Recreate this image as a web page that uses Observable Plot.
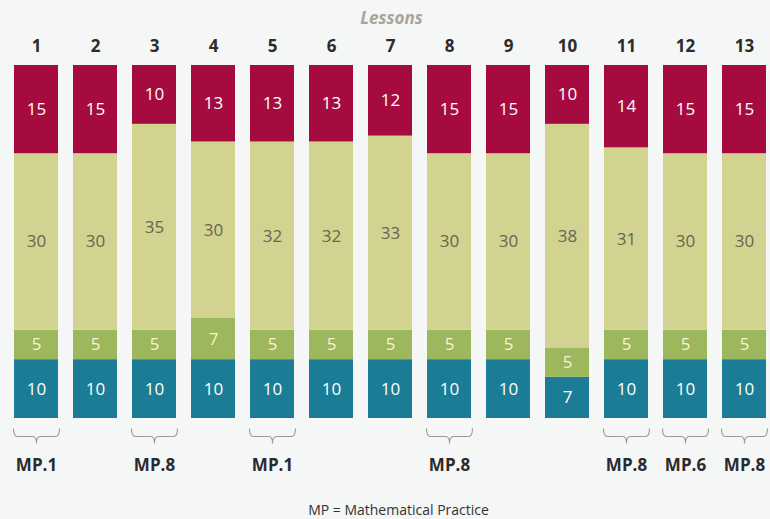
<!DOCTYPE html>
<html>
<head>
<meta charset="utf-8">
<script src="https://cdn.jsdelivr.net/npm/d3@7"></script>
<script src="https://cdn.jsdelivr.net/npm/@observablehq/plot@0.6"></script>
<style>
  html, body { margin: 0; padding: 0; background: #f5f6f6; }
  #chart svg { display: block; }
</style>
</head>
<body>
<div id="chart"></div>
<script>
// ---- data ----
const lessons = [1, 2, 3, 4, 5, 6, 7, 8, 9, 10, 11, 12, 13];
const teal    = [10, 10, 10, 10, 10, 10, 10, 10, 10, 7, 10, 10, 10];
const green   = [5, 5, 5, 7, 5, 5, 5, 5, 5, 5, 5, 5, 5];
const yellow  = [30, 30, 35, 30, 32, 32, 33, 30, 30, 38, 31, 30, 30];
const crimson = [15, 15, 10, 13, 13, 13, 12, 15, 15, 10, 14, 15, 15];
const mpLessons = [1, 3, 5, 8, 11, 12, 13];
const mpLabels  = ["MP.1", "MP.8", "MP.1", "MP.8", "MP.8", "MP.6", "MP.8"];
const titleText = "Lessons";
const footerText = "MP = Mathematical Practice";

// ---- styles ----
const parts = ["teal", "green", "yellow", "crimson"];
const series = {teal, green, yellow, crimson};
const fillOf  = {teal: "#1a7d95", green: "#9db75c", yellow: "#d2d391", crimson: "#a50b3e"};
const labelOf = {teal: "#ffffff", green: "#f6f3d2", yellow: "#66664f", crimson: "#ffffff"};

const rows = [];
lessons.forEach((l, i) => {
  parts.forEach(p => rows.push({lesson: l, part: p, value: series[p][i]}));
});
const mp = mpLessons.map((l, i) => ({lesson: l, label: mpLabels[i]}));

// curly brace symbol (opening up)
const brace = {
  draw(ctx) {
    const w = 23, h = 8, t = 7;
    ctx.moveTo(-w, -h);
    ctx.quadraticCurveTo(-w, 0, -w + 4, 0);
    ctx.lineTo(-4, 0);
    ctx.quadraticCurveTo(0, 0, 0, t);
    ctx.quadraticCurveTo(0, 0, 4, 0);
    ctx.lineTo(w - 4, 0);
    ctx.quadraticCurveTo(w, 0, w, -h);
  }
};

const font = "'Open Sans', 'Noto Sans', sans-serif";

const chart = Plot.plot({
  width: 770,
  height: 519,
  marginTop: 65,
  marginBottom: 101,
  marginLeft: 0,
  marginRight: 0,
  style: {background: "#f5f6f6", fontFamily: font},
  x: {domain: lessons, range: [14, 767], paddingInner: 0.25, paddingOuter: 0, axis: null},
  y: {domain: [0, 60], axis: null},
  color: {type: "identity"},
  marks: [
    Plot.barY(rows, Plot.stackY({x: "lesson", y: "value", fill: d => fillOf[d.part]})),
    Plot.text(rows, Plot.stackY({
      x: "lesson", y: "value", text: "value",
      fill: d => labelOf[d.part],
      fontSize: 17, fontWeight: d => (d.part === "yellow" ? 400 : 600)
    })),
    // lesson numbers
    Plot.text(lessons, {x: d => d, text: d => String(d), frameAnchor: "top", lineAnchor: "middle", dy: -19,
      fontSize: 17, fontWeight: 700, fill: "#2b2b2b"}),
    // title
    Plot.text([titleText], {text: d => d, frameAnchor: "top", lineAnchor: "middle", dy: -47, dx: 6,
      fontSize: 17, fontWeight: 700, fontStyle: "italic", fill: "#aaa59b"}),
    // braces
    Plot.dot(mp, {x: "lesson", frameAnchor: "bottom", dy: 18, symbol: brace,
      fill: "none", stroke: "#9a9a9a", strokeWidth: 1.1}),
    // MP labels
    Plot.text(mp, {x: "lesson", text: "label", frameAnchor: "bottom", lineAnchor: "middle", dy: 47,
      fontSize: 17, fontWeight: 700, fill: "#2b2b2b", letterSpacing: "-0.5px"}),
    // footer
    Plot.text([footerText], {text: d => d, frameAnchor: "bottom", lineAnchor: "middle", dy: 92, dx: 13,
      fontSize: 14, fill: "#333333"})
  ]
});
document.getElementById("chart").append(chart);
</script>
</body>
</html>
